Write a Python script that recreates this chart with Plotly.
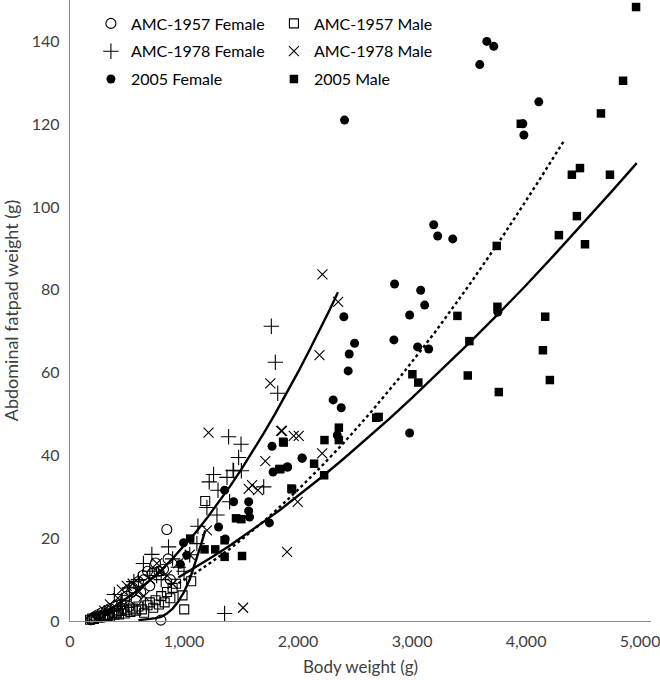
import plotly.graph_objects as go

# ---------------- data ----------------
f57_x = [185, 200, 215, 230, 245, 260, 280, 300, 320, 340, 350, 380, 400, 420, 450, 470, 480, 500, 520, 540, 550, 580, 600, 620, 640, 650, 680, 700, 720, 750, 780, 797, 820, 849, 860, 880]
f57_y = [0.3, 0.5, 1.0, 0.8, 1.5, 1.2, 2.0, 1.0, 2.5, 1.5, 3.0, 2.0, 3.5, 2.5, 4.0, 3.0, 5.0, 6.0, 3.5, 7.0, 8.0, 5.0, 9.5, 7.0, 11.0, 10.0, 12.0, 8.5, 11.5, 14.0, 12.0, 0.2, 12.5, 22.1, 15.0, 10.0]

m57_x = [176, 195, 210, 230, 250, 270, 290, 310, 330, 350, 370, 390, 410, 430, 450, 480, 500, 530, 550, 580, 600, 630, 650, 680, 700, 730, 750, 780, 800, 830, 850, 880, 900, 930, 987, 1002, 1063, 1186]
m57_y = [0.3, 0.6, 0.5, 0.9, 0.8, 1.2, 1.0, 1.4, 1.2, 1.0, 1.8, 1.5, 2.0, 1.6, 2.4, 1.8, 2.6, 2.2, 3.0, 2.5, 3.5, 2.8, 2.0, 3.8, 4.5, 3.2, 5.0, 4.0, 6.0, 4.5, 7.0, 5.5, 8.0, 9.0, 6.2, 2.8, 9.6, 29.0]

f78_x = [300, 389, 450, 520, 560, 600, 644, 700, 718, 760, 800, 864, 900, 950, 1000, 1050, 1113, 1122, 1201, 1221, 1259, 1289, 1298, 1356, 1377, 1391, 1400, 1430, 1435, 1479, 1500, 1503, 1699, 1766, 1801, 1822]
f78_y = [2.0, 6.4, 5.0, 8.0, 9.5, 10.0, 13.9, 12.0, 16.1, 11.0, 10.0, 17.9, 15.0, 13.0, 12.0, 16.0, 18.7, 22.9, 27.4, 33.6, 35.4, 25.6, 31.6, 1.8, 34.7, 44.5, 28.8, 36.4, 36.3, 39.5, 42.7, 36.3, 32.4, 71.2, 62.5, 55.0]

m78_x = [300, 350, 420, 454, 498, 550, 600, 650, 700, 762, 800, 850, 900, 950, 1050, 1201, 1215, 1518, 1567, 1597, 1649, 1713, 1757, 1851, 1860, 1904, 1962, 1997, 2006, 2188, 2212, 2214, 2352]
m78_y = [2.5, 4.0, 5.5, 7.6, 8.5, 9.0, 7.0, 6.0, 10.0, 13.9, 12.0, 11.0, 9.0, 14.0, 16.0, 21.9, 45.5, 3.2, 31.9, 32.8, 31.6, 38.6, 57.4, 45.9, 45.9, 16.7, 44.7, 28.8, 44.7, 64.2, 40.5, 83.7, 77.1]

f05_x = [967, 996, 1025, 1303, 1356, 1362, 1435, 1567, 1567, 1575, 1749, 1772, 1781, 1904, 1910, 2036, 2036, 2308, 2344, 2379, 2402, 2408, 2440, 2449, 2496, 2841, 2847, 2979, 2979, 3049, 3076, 3111, 3146, 3190, 3225, 3357, 3594, 3656, 3717, 3752, 3972, 3981, 4112]
f05_y = [13.7, 18.9, 15.9, 22.7, 31.6, 19.8, 28.8, 28.8, 26.6, 25.1, 23.7, 42.2, 36.0, 37.2, 37.2, 39.4, 39.3, 53.4, 44.9, 51.5, 73.5, 121.0, 60.4, 64.5, 67.1, 67.9, 81.4, 73.9, 45.4, 66.2, 79.9, 76.3, 65.7, 95.7, 93.0, 92.3, 134.4, 140.0, 138.8, 74.6, 120.1, 117.4, 125.4]

m05_x = [1054, 1180, 1274, 1356, 1356, 1456, 1503, 1509, 1836, 1845, 1869, 1874, 1942, 1948, 2141, 2229, 2232, 2358, 2358, 2686, 2707, 3003, 3055, 3398, 3489, 3503, 3743, 3749, 3761, 3954, 4148, 4168, 4209, 4288, 4402, 4446, 4473, 4517, 4657, 4736, 4851, 4965]
m05_y = [19.9, 17.3, 17.3, 19.5, 15.5, 24.8, 24.6, 15.7, 36.7, 36.7, 43.3, 43.1, 32.0, 31.8, 38.0, 35.2, 43.7, 46.7, 43.7, 49.1, 49.3, 59.6, 57.6, 73.7, 59.3, 67.6, 90.6, 75.9, 55.3, 120.1, 65.4, 73.5, 58.2, 93.2, 107.8, 97.8, 109.4, 91.0, 122.6, 107.8, 130.5, 148.3]

# trend lines
t78_x = [180, 300, 400, 500, 600, 700, 800, 900, 1000, 1100, 1200, 1300, 1400, 1500, 1600, 1700, 1800, 1900, 2000, 2100, 2200, 2280, 2350]
t78_y = [0.9, 2.2, 3.7, 5.5, 7.5, 9.8, 12.3, 15.1, 18.1, 21.3, 24.8, 28.5, 32.4, 36.5, 40.8, 45.4, 50.1, 55.0, 60.1, 65.4, 70.8, 75.3, 79.4]

t57_x = [600, 650, 700, 750, 800, 850, 900, 950, 1000, 1050, 1100, 1150, 1186]
t57_y = [0.2, 0.3, 0.5, 0.7, 1.0, 1.8, 3.0, 4.7, 7.0, 10.0, 14.0, 18.5, 21.9]

tf05_x = [950, 1100, 1250, 1400, 1550, 1700, 1850, 2000, 2200, 2400, 2650, 2900, 3200, 3500, 3800, 4100, 4335]
tf05_y = [9.1, 11.6, 14.4, 17.4, 20.7, 24.1, 27.8, 31.7, 37.2, 43.0, 50.8, 59.1, 69.7, 81.1, 93.1, 105.8, 116.1]

tm05_x = [950, 1100, 1250, 1400, 1550, 1700, 1850, 2000, 2200, 2400, 2600, 2800, 3000, 3250, 3500, 3750, 4000, 4250, 4500, 4750, 4971]
tm05_y = [10.5, 12.9, 15.5, 18.2, 21.0, 24.0, 27.0, 30.2, 34.6, 39.2, 43.9, 48.8, 53.9, 60.4, 67.1, 74.0, 81.1, 88.5, 96.0, 103.7, 110.6]

x_ticks = [0, 1000, 2000, 3000, 4000, 5000]
y_ticks = [0, 20, 40, 60, 80, 100, 120, 140]

# ---------------- figure ----------------
BLACK = "#000000"
fig = go.Figure()

def scatter(x, y, name, symbol, size, filled, legend):
    if filled:
        marker = dict(symbol=symbol, size=size, color=BLACK, line=dict(width=0))
    else:
        marker = dict(symbol=symbol, size=size, color=BLACK, line=dict(width=1.1, color=BLACK))
    fig.add_trace(go.Scatter(x=x, y=y, mode="markers", name=name, marker=marker,
                             legend=legend, legendgroup=name, cliponaxis=False))

scatter(f57_x, f57_y, "AMC-1957 Female", "circle-open", 10, False, "legend")
scatter(f78_x, f78_y, "AMC-1978 Female", "cross-thin-open", 11, False, "legend")
scatter(f05_x, f05_y, "2005 Female", "circle", 9, True, "legend")
scatter(m57_x, m57_y, "AMC-1957 Male", "square-open", 9, False, "legend2")
scatter(m78_x, m78_y, "AMC-1978 Male", "x-thin-open", 10, False, "legend2")
scatter(m05_x, m05_y, "2005 Male", "square", 8.5, True, "legend2")

for lx, ly, dash in [(t78_x, t78_y, "solid"), (t57_x, t57_y, "solid"),
                     (tf05_x, tf05_y, "dot"), (tm05_x, tm05_y, "solid")]:
    fig.add_trace(go.Scatter(x=lx, y=ly, mode="lines", line=dict(color=BLACK, width=2.4, dash=dash),
                             showlegend=False, hoverinfo="skip", cliponaxis=False))

FONT = "Lato, 'Open Sans', sans-serif"
legend_common = dict(font=dict(family=FONT, size=16, color="#000000"), bgcolor="rgba(0,0,0,0)",
                     itemwidth=30, tracegroupgap=4, xanchor="left", yanchor="top", orientation="v")
fig.update_layout(
    width=660, height=680,
    margin=dict(l=70, r=9, t=0, b=59, autoexpand=False),
    paper_bgcolor="white", plot_bgcolor="white",
    font=dict(family=FONT, size=16, color="#404040"),
    legend=dict(x=0.036, y=0.9895, **legend_common),
    legend2=dict(x=0.351, y=0.9895, **legend_common),
    xaxis=dict(range=[0, 5096], tickvals=x_ticks, tickformat=",", showgrid=False, zeroline=False,
               showline=True, linecolor="#8c8c8c", linewidth=1.3, ticks="", ticklabelstandoff=6,
               ticklabeloverflow="allow",
               title=dict(text="Body weight (g)", font=dict(size=17, color="#404040"), standoff=11)),
    yaxis=dict(range=[0, 150], tickvals=y_ticks, showgrid=False, zeroline=False,
               showline=True, linecolor="#8c8c8c", linewidth=1.3, ticks="", ticklabelstandoff=6,
               ticklabeloverflow="allow",
               title=dict(text="Abdominal fatpad weight (g)", font=dict(size=18, color="#404040"), standoff=19)),
    showlegend=True,
)

fig.write_html("out.html", config={"displayModeBar": False},
               post_script="document.body.style.margin='0px';")
